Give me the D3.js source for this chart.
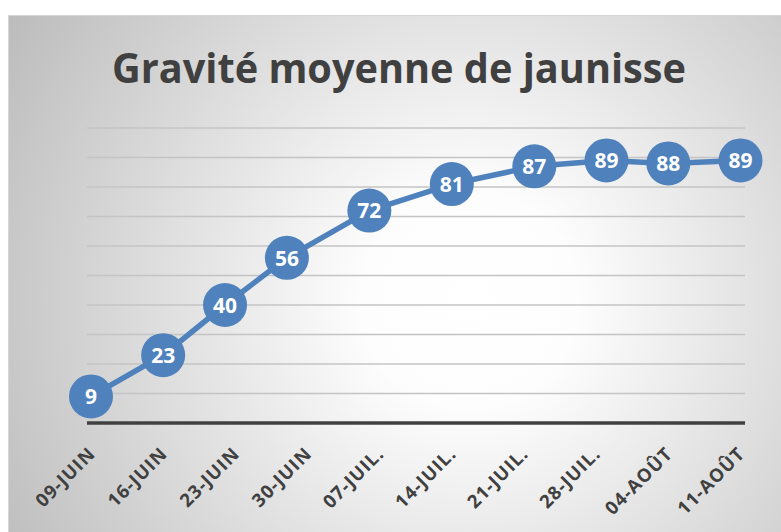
<!DOCTYPE html>
<html>
<head>
<meta charset="utf-8">
<script src="https://cdn.jsdelivr.net/npm/d3@7"></script>
<style>
  html, body { margin: 0; padding: 0; background: #fff; }
  svg { display: block; }
</style>
</head>
<body>
<div id="chart"></div>
<script>
  // data
  const title = "Gravité moyenne de jaunisse";
  const obsDates = ["2019-06-09", "2019-06-16", "2019-06-22", "2019-06-28", "2019-07-06",
                    "2019-07-14", "2019-07-22", "2019-07-29", "2019-08-04", "2019-08-11"];
  const gravite = [9, 23, 40, 56, 72, 81, 87, 89, 88, 89];
  const tickLabels = ["09-JUIN", "16-JUIN", "23-JUIN", "30-JUIN", "07-JUIL.",
                      "14-JUIL.", "21-JUIL.", "28-JUIL.", "04-AOÛT", "11-AOÛT"];
  const yTicks = [10, 20, 30, 40, 50, 60, 70, 80, 90, 100];

  const width = 781, height = 532;
  const blue = "#4f81bd", ink = "#404040";

  const parse = d3.timeParse("%Y-%m-%d");
  const data = obsDates.map((d, i) => ({ date: parse(d), value: gravite[i] }));
  const tickDates = d3.timeWeek.range(data[0].date, d3.timeDay.offset(data[data.length - 1].date, 1));

  const svg = d3.select("#chart").append("svg")
    .attr("width", width)
    .attr("height", height);

  const defs = svg.append("defs");
  const grad = defs.append("radialGradient")
    .attr("id", "bg")
    .attr("gradientUnits", "userSpaceOnUse")
    .attr("cx", 470).attr("cy", 300).attr("r", 540);
  grad.append("stop").attr("offset", "0").attr("stop-color", "#ffffff");
  grad.append("stop").attr("offset", "0.2").attr("stop-color", "#fdfdfd");
  grad.append("stop").attr("offset", "1").attr("stop-color", "#bcbcbc");

  // chart area
  svg.append("rect")
    .attr("x", 8.5).attr("y", 15.5)
    .attr("width", 800).attr("height", 540)
    .attr("fill", "url(#bg)")
    .attr("stroke", "#d6d6d6");

  const x = d3.scaleTime()
    .domain([data[0].date, data[data.length - 1].date])
    .range([91, 740.5]);
  const y = d3.scaleLinear().domain([0, 100]).range([423, 128]);

  svg.append("text")
    .attr("x", 399).attr("y", 83)
    .attr("text-anchor", "middle")
    .attr("font-family", "'Open Sans', sans-serif")
    .attr("font-weight", 700)
    .attr("font-size", 41)
    .attr("fill", ink)
    .attr("textLength", 574)
    .attr("lengthAdjust", "spacingAndGlyphs")
    .text(title);

  // horizontal gridlines
  svg.append("g")
    .selectAll("line")
    .data(yTicks)
    .join("line")
    .attr("x1", 87).attr("x2", 745)
    .attr("y1", d => y(d)).attr("y2", d => y(d))
    .attr("stroke", "#c4c4c4")
    .attr("stroke-width", 1.5);

  // x axis
  const xAxis = svg.append("g")
    .attr("transform", `translate(0,${y(0)})`)
    .call(d3.axisBottom(x)
      .tickValues(tickDates)
      .tickFormat((d, i) => tickLabels[i])
      .tickSize(0));
  xAxis.select(".domain").remove();
  xAxis.selectAll("text")
    .attr("x", 0).attr("y", 0).attr("dy", null)
    .attr("transform", "translate(5,32) rotate(-45)")
    .attr("text-anchor", "end")
    .attr("font-family", "'Open Sans', sans-serif")
    .attr("font-weight", 700)
    .attr("font-size", 18.5)
    .attr("letter-spacing", 1)
    .attr("fill", ink);

  svg.append("line")
    .attr("x1", 87).attr("x2", 745)
    .attr("y1", y(0)).attr("y2", y(0))
    .attr("stroke", ink)
    .attr("stroke-width", 3.5);

  const line = d3.line().x(d => x(d.date)).y(d => y(d.value));
  svg.append("path")
    .datum(data)
    .attr("fill", "none")
    .attr("stroke", blue)
    .attr("stroke-width", 5.5)
    .attr("stroke-linejoin", "round")
    .attr("d", line);

  const pts = svg.append("g")
    .selectAll("g")
    .data(data)
    .join("g")
    .attr("transform", d => `translate(${x(d.date)},${y(d.value)})`);

  pts.append("circle")
    .attr("r", 22)
    .attr("fill", blue);

  pts.append("text")
    .attr("text-anchor", "middle")
    .attr("dy", "0.37em")
    .attr("font-family", "'Open Sans', sans-serif")
    .attr("font-weight", 700)
    .attr("font-size", 21)
    .attr("fill", "#fff")
    .text(d => d.value);
</script>
</body>
</html>
